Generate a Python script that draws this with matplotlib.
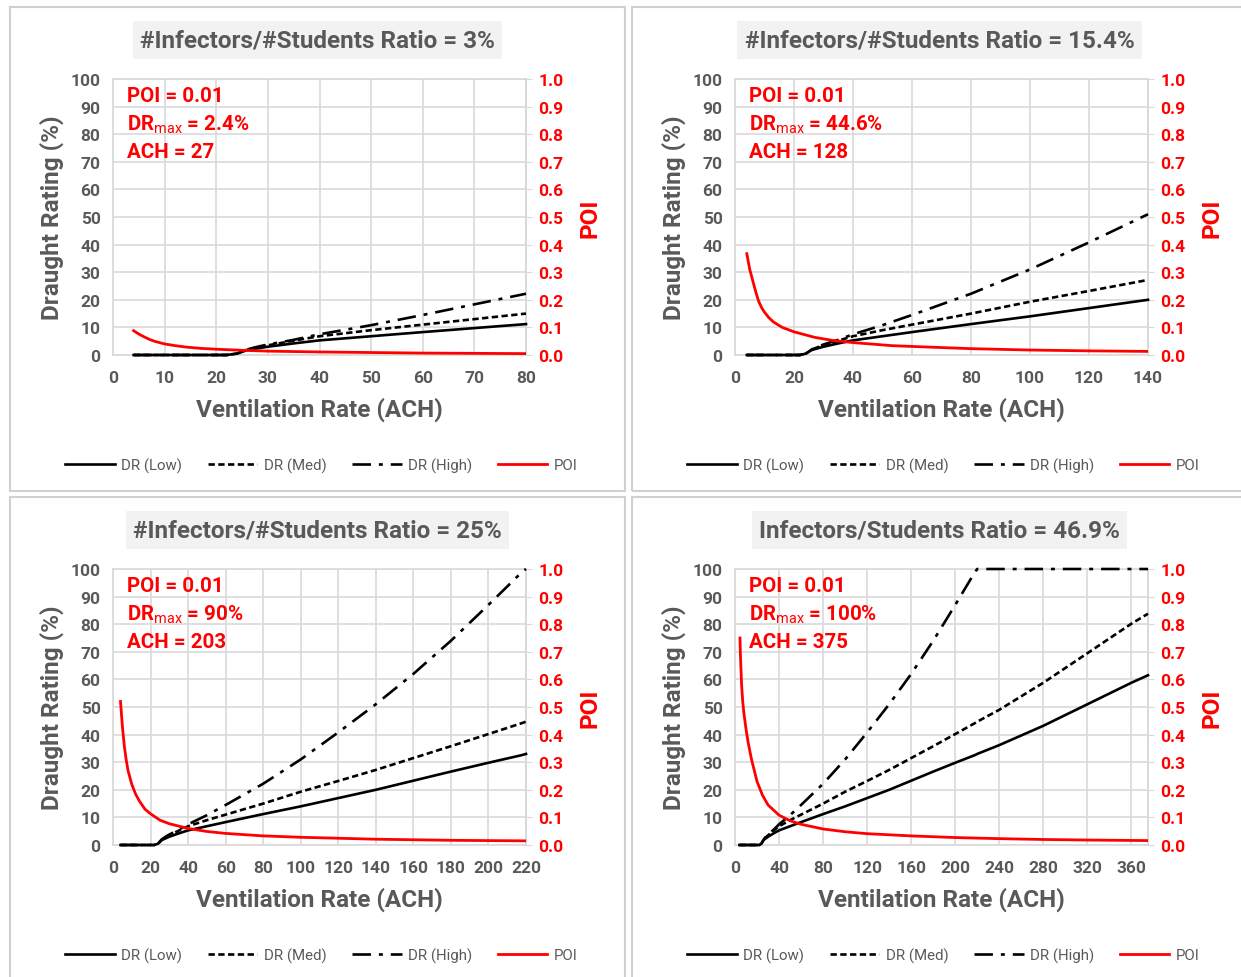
import matplotlib
matplotlib.use("Agg")
import matplotlib.pyplot as plt
import numpy as np
from matplotlib.patches import Rectangle

plt.rcParams["font.family"] = ["Roboto", "DejaVu Sans"]
plt.rcParams["mathtext.fontset"] = "custom"
plt.rcParams["mathtext.rm"] = "Roboto"
plt.rcParams["mathtext.bf"] = "Roboto:bold"

# draught rating vs ventilation rate (same curves in every panel)
ach = np.array([4, 22, 24, 26, 28, 30, 35, 40, 50, 60, 80, 100, 120, 140, 160,
                180, 200, 218, 220, 240, 280, 320, 360, 375])
dr_low = np.array([0, 0, 0.5, 1.8, 2.4, 3.0, 4.2, 5.3, 6.8, 8.3, 11.2, 14.0, 17.0,
                   20.0, 23.3, 26.6, 29.8, 32.6, 33.0, 36.2, 43.2, 51.0, 58.8, 61.5])
dr_med = np.array([0, 0, 0.5, 2.0, 2.8, 3.5, 5.2, 6.8, 9.0, 11.0, 15.0, 19.3, 23.2,
                   27.2, 31.5, 35.8, 40.2, 44.2, 44.7, 49.0, 58.8, 69.5, 80.2, 83.8])
dr_high = np.array([0, 0, 0.5, 2.0, 3.0, 3.8, 5.5, 7.5, 10.8, 14.5, 22.2, 31.0, 40.8,
                    51.0, 62.0, 74.0, 87.0, 99.0, 100, 100, 100, 100, 100, 100])

# probability of infection, one curve per ratio
poi1_x = [4, 5, 6, 7, 8, 10, 12, 14, 17, 20, 25, 30, 40, 50, 60, 70, 80]
poi1_y = [0.088, 0.076, 0.066, 0.057, 0.05, 0.04, 0.034, 0.029, 0.024, 0.021, 0.017,
          0.014, 0.011, 0.009, 0.007, 0.006, 0.005]
poi2_x = [4, 5, 6, 7, 8, 9, 10, 11.5, 13, 16, 20, 27, 33, 40, 53, 60, 80, 100, 120, 140]
poi2_y = [0.367, 0.31, 0.27, 0.23, 0.195, 0.172, 0.155, 0.135, 0.12, 0.1, 0.084, 0.064,
          0.053, 0.045, 0.034, 0.031, 0.023, 0.018, 0.015, 0.013]
poi3_x = [4, 5, 6, 7, 8, 10, 12, 14, 17, 20, 25, 30, 40, 50, 60, 80, 100, 140, 180, 220]
poi3_y = [0.52, 0.43, 0.36, 0.31, 0.27, 0.22, 0.185, 0.16, 0.13, 0.113, 0.09, 0.077,
          0.06, 0.049, 0.042, 0.033, 0.028, 0.021, 0.017, 0.015]
poi4_x = [4.5, 5, 6, 7, 8, 10, 12, 15, 20, 25, 30, 40, 50, 60, 80, 100, 120, 160, 200,
          240, 280, 320, 375]
poi4_y = [0.75, 0.68, 0.58, 0.52, 0.48, 0.42, 0.37, 0.31, 0.23, 0.18, 0.145, 0.108,
          0.088, 0.075, 0.058, 0.048, 0.041, 0.033, 0.027, 0.023, 0.02, 0.018, 0.016]

titles = ["#Infectors/#Students Ratio = 3%", "#Infectors/#Students Ratio = 15.4%",
          "#Infectors/#Students Ratio = 25%", "Infectors/Students Ratio = 46.9%"]
x_max = [80, 140, 220, 375]
x_step = [10, 20, 20, 40]
dr_max = ["2.4%", "44.6%", "90%", "100%"]
ach_opt = ["27", "128", "203", "375"]
poi_x = [poi1_x, poi2_x, poi3_x, poi4_x]
poi_y = [poi1_y, poi2_y, poi3_y, poi4_y]

W, H = 1241, 978
GRAY = "#595959"
GRID = "#d9d9d9"
RED = "#ff0000"

fig = plt.figure(figsize=(W / 100, H / 100), dpi=100)


def fx(px):
    return px / W


def fy(py):
    return 1 - py / H


def panel(i, ox, oy):
    fig.add_artist(Rectangle((fx(10 + ox), fy(492 + oy)), 615 / W, 484 / H,
                             transform=fig.transFigure, fill=False,
                             edgecolor="#d0d0d0", lw=1.5))
    l, r, t, b = 113 + ox, 526 + ox, 80 + oy, 356 + oy
    ax = fig.add_axes([fx(l), fy(b), (r - l) / W, (b - t) / H])
    ax2 = ax.twinx()
    m = ach <= x_max[i]
    h1, = ax2.plot(ach[m], dr_low[m] / 100, color="black", lw=1.9, clip_on=False,
                   label="DR (Low)")
    h2, = ax2.plot(ach[m], dr_med[m] / 100, color="black", lw=1.9, dashes=(2.4, 1.3),
                   clip_on=False, label="DR (Med)")
    h3, = ax2.plot(ach[m], dr_high[m] / 100, color="black", lw=1.9,
                   dashes=(7, 3, 1.5, 3), clip_on=False, label="DR (High)")
    h4, = ax2.plot(poi_x[i], poi_y[i], color=RED, lw=2.0, label="POI")
    for h in (h1, h2, h3, h4):
        h.set_zorder(3)

    ax.set_xlim(0, x_max[i])
    ax.set_ylim(0, 100)
    ax.set_xticks(np.arange(0, x_max[i] + 1, x_step[i]))
    ax.set_yticks(np.arange(0, 101, 10))
    ax.grid(True, color=GRID, lw=1.2)
    ax.set_axisbelow(True)
    ax.tick_params(length=0, labelsize=12.5, labelcolor=GRAY)
    ax.tick_params(axis="x", pad=11)
    ax.tick_params(axis="y", pad=9)
    for lab in ax.get_xticklabels() + ax.get_yticklabels():
        lab.set_fontweight("bold")
    for s in ax.spines.values():
        s.set_color(GRID)
        s.set_linewidth(1.2)

    ax2.set_ylim(0, 1)
    ax2.set_yticks(np.arange(0, 1.01, 0.1))
    ax2.set_yticklabels([f"{v:.1f}" for v in np.arange(0, 1.01, 0.1)])
    ax2.tick_params(length=4, color=GRID, labelsize=12.5, labelcolor=RED, pad=5)
    for lab in ax2.get_yticklabels():
        lab.set_fontweight("bold")
    for name, s in ax2.spines.items():
        s.set_visible(name == "right")
        s.set_color(GRID)
        s.set_linewidth(1.2)

    cx = (l + r) / 2
    fig.text(fx(cx - 2), fy(41 + oy), titles[i], ha="center", va="center",
             fontsize=17.5, fontweight="bold", color=GRAY,
             bbox=dict(boxstyle="square,pad=0.3", fc="#f2f2f2", ec="none"))
    fig.text(fx(cx), fy(410 + oy), "Ventilation Rate (ACH)", ha="center",
             va="center", fontsize=17.5, fontweight="bold", color=GRAY)
    fig.text(fx(52 + ox), fy(218 + oy), "Draught Rating (%)", ha="center",
             va="center", rotation=90, fontsize=17.5, fontweight="bold", color=GRAY)
    fig.text(fx(590 + ox), fy(218 + oy), "POI", ha="center", va="center",
             rotation=90, fontsize=17.5, fontweight="bold", color=RED)

    fig.text(fx(127 + ox), fy(97 + oy), "POI = 0.01", ha="left", va="center",
             fontsize=14.8, fontweight="bold", color=RED)
    fig.text(fx(127 + ox), fy(125 + oy), r"DR$_{\mathrm{max}}$ = " + dr_max[i],
             ha="left", va="center", fontsize=14.8, fontweight="bold", color=RED)
    fig.text(fx(127 + ox), fy(153 + oy), "ACH = " + ach_opt[i], ha="left",
             va="center", fontsize=14.8, fontweight="bold", color=RED)

    fig.legend(handles=[h1, h2, h3, h4], loc="center",
               bbox_to_anchor=(fx(cx + 2), fy(466 + oy)), ncol=4, frameon=False,
               fontsize=10.8, labelcolor=GRAY, handlelength=3.3,
               handletextpad=0.45, columnspacing=1.7)


panel(0, 0, 0)
panel(1, 622, 0)
panel(2, 0, 490)
panel(3, 622, 490)

fig.savefig("out.png", dpi=100)
